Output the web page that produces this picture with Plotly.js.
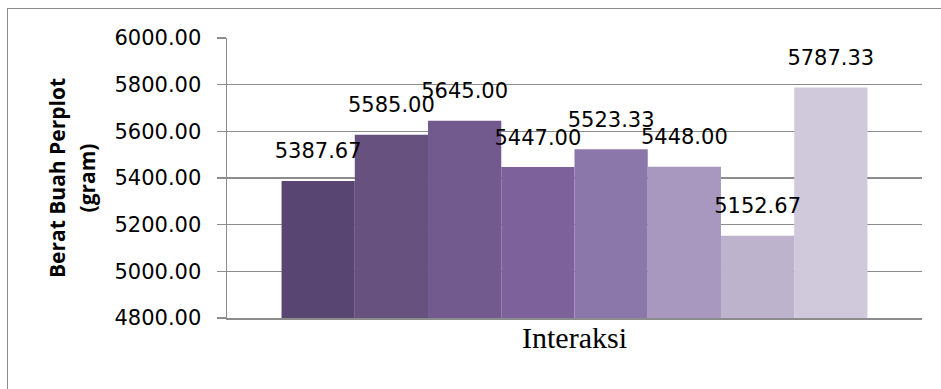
<!DOCTYPE html>
<html>
<head>
<meta charset="utf-8">
<script src="https://cdn.plot.ly/plotly-3.0.1.min.js"></script>
<style>
html,body{margin:0;padding:0;background:#fff;}
#wrap{position:relative;width:941px;height:389px;overflow:hidden;}
#chart{width:941px;height:389px;}
#frame{position:absolute;left:7px;top:8px;width:960px;height:420px;border:1.5px solid #8c8c8c;pointer-events:none;}
</style>
</head>
<body>
<div id="wrap"><div id="chart"></div><div id="frame"></div></div>
<script>
const category = ['Interaksi'];
const seriesNames = ['P1','P2','P3','P4','P5','P6','P7','P8'];
const seriesValues = [5387.67, 5585.00, 5645.00, 5447.00, 5523.33, 5448.00, 5152.67, 5787.33];
const seriesColors = ['#594571','#66517f','#72598e','#7d619b','#8c77ab','#a898bf','#bdb3cd','#d0c9dc'];
const yTicks = [4800, 5000, 5200, 5400, 5600, 5800, 6000];

const labelFont = {family: 'DejaVu Sans', size: 21, color: '#000'};

const barTraces = seriesValues.map((v, i) => ({
  type: 'bar',
  name: seriesNames[i],
  x: category,
  y: [v],
  marker: {color: seriesColors[i], line: {width: 0}},
  hoverinfo: 'skip'
}));

// value labels: grouped scatter text traces aligned with the grouped bars
const labelTraces = seriesValues.map((v, i) => ({
  type: 'scatter',
  mode: 'markers+text',
  name: seriesNames[i] + ' label',
  x: category,
  y: [v],
  text: [v.toFixed(2)],
  textposition: 'top center',
  textfont: labelFont,
  marker: {size: 26, opacity: 0},
  cliponaxis: false,
  hoverinfo: 'skip'
}));

const layout = {
  width: 941, height: 389,
  margin: {l: 227, r: 19, t: 38, b: 71},
  paper_bgcolor: '#fff', plot_bgcolor: '#fff',
  showlegend: false,
  barmode: 'group',
  bargap: 0.157,
  bargroupgap: 0,
  scattermode: 'group',
  scattergap: 0.157,
  xaxis: {
    type: 'category',
    range: [-0.5, 0.5],
    showticklabels: false,
    ticks: '',
    showline: true, linecolor: '#8c8c8c', linewidth: 1.5,
    showgrid: false, zeroline: false,
    title: {text: 'Interaksi', font: {family: 'Liberation Serif', size: 30, color: '#000'}, standoff: 8}
  },
  yaxis: {
    range: [4800, 6000],
    tickvals: yTicks,
    ticktext: yTicks.map(t => t.toFixed(2)),
    tickfont: labelFont,
    ticks: 'outside', ticklen: 9, tickcolor: '#8c8c8c', tickwidth: 1.5,
    showline: true, linecolor: '#8c8c8c', linewidth: 1.5,
    showgrid: true, gridcolor: '#8c8c8c', gridwidth: 1.5,
    zeroline: false,
    ticklabelstandoff: 11,
    title: {
      text: '<span style="font-size:21px">Berat Buah Perplot</span><br><span style="font-size:21px">(gram)</span>',
      font: {family: 'Open Sans', size: 23, color: '#000', weight: 'bold'},
      standoff: 12
    }
  }
};

Plotly.newPlot('chart', barTraces.concat(labelTraces), layout, {displayModeBar: false, staticPlot: true});
</script>
</body>
</html>
